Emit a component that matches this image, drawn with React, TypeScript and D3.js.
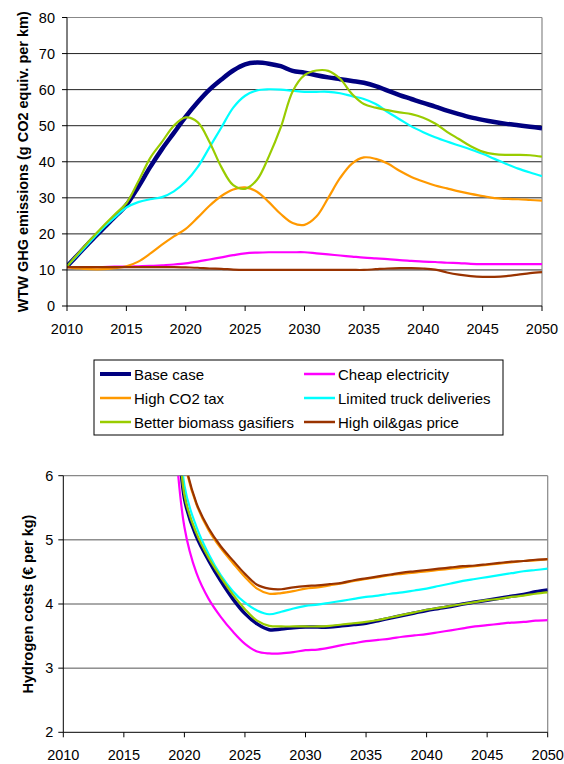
import React from "react";
import * as d3 from "d3";

// ---------- Top chart data (WTW GHG emissions, g CO2 equiv. per km) ----------
const yearsTop = d3.range(2010, 2051);
const baseCase = [11, 14.5, 18, 21.3, 24.6, 28, 33, 38.5, 43.5, 48, 52.5, 56.5, 60, 62.8, 65.3, 67, 67.5, 67.2, 66.5, 65.2, 64.7, 64, 63.4, 62.9, 62.4, 61.9, 61, 59.7, 58.5, 57.4, 56.3, 55.3, 54.2, 53.2, 52.3, 51.6, 51, 50.5, 50.1, 49.7, 49.3];
const cheapElectricity = [10.8, 10.8, 10.8, 10.8, 10.9, 10.9, 11, 11.1, 11.3, 11.5, 11.8, 12.3, 12.9, 13.5, 14.1, 14.6, 14.8, 14.9, 14.9, 14.9, 14.9, 14.6, 14.3, 14, 13.7, 13.4, 13.2, 13, 12.7, 12.5, 12.3, 12.2, 12, 11.9, 11.7, 11.6, 11.6, 11.6, 11.6, 11.6, 11.6];
const highCO2Tax = [10.8, 10.4, 10.2, 10.2, 10.5, 11, 12.3, 14.5, 17, 19.3, 21.4, 24.5, 27.8, 30.5, 32.3, 32.9, 31.7, 28.8, 25.5, 23, 22.5, 24.8, 30, 35.5, 39.5, 41.2, 40.8, 39.5, 37.5, 35.8, 34.5, 33.4, 32.6, 31.8, 31.1, 30.5, 29.9, 29.7, 29.6, 29.4, 29.2];
const limitedTruck = [11, 14.5, 18, 21.5, 24.5, 27.3, 28.8, 29.6, 30.2, 31.8, 34.5, 38.5, 44, 49.5, 55, 58.3, 59.8, 60.1, 60, 59.7, 59.4, 59.4, 59.4, 59, 58.2, 57.4, 56, 53.8, 51.8, 49.8, 48.2, 46.8, 45.6, 44.5, 43.4, 42.2, 40.8, 39.4, 38.1, 37, 36];
const betterBiomass = [11, 14.8, 18.5, 22, 25.3, 28.5, 34.5, 41, 45.5, 50, 52.3, 51, 45.5, 38.5, 33.5, 32.5, 35, 41.5, 49.5, 59.5, 64, 65.3, 65.2, 63, 58.8, 56, 55, 54.3, 53.7, 53.2, 52.2, 50.6, 48.3, 46.3, 44.3, 42.8, 42.1, 41.9, 41.9, 41.8, 41.4];
const highOilGas = [10.8, 10.8, 10.8, 10.8, 10.8, 10.8, 10.8, 10.8, 10.8, 10.8, 10.7, 10.6, 10.4, 10.3, 10.1, 10, 10, 10, 10, 10, 10, 10, 10, 10, 10, 10, 10.2, 10.4, 10.5, 10.5, 10.4, 10.1, 9.3, 8.7, 8.3, 8.1, 8.1, 8.3, 8.7, 9.1, 9.4];

// ---------- Bottom chart data (Hydrogen costs, € per kg) ----------
const yearsBottom = d3.range(2019, 2051);
const costBase = [9, 5.65, 5.05, 4.68, 4.36, 4.08, 3.85, 3.69, 3.6, 3.61, 3.63, 3.64, 3.64, 3.64, 3.66, 3.68, 3.7, 3.74, 3.78, 3.82, 3.86, 3.9, 3.93, 3.96, 4.0, 4.03, 4.06, 4.09, 4.12, 4.15, 4.19, 4.22];
const costCheapElec = [7.2, 5.2, 4.48, 4.08, 3.8, 3.57, 3.38, 3.26, 3.23, 3.23, 3.25, 3.28, 3.29, 3.32, 3.36, 3.39, 3.42, 3.44, 3.46, 3.49, 3.51, 3.53, 3.56, 3.59, 3.62, 3.65, 3.67, 3.69, 3.71, 3.72, 3.74, 3.75];
const costHighCO2 = [10, 6.25, 5.55, 5.15, 4.87, 4.64, 4.42, 4.24, 4.16, 4.17, 4.2, 4.24, 4.26, 4.29, 4.32, 4.36, 4.39, 4.42, 4.45, 4.47, 4.49, 4.51, 4.53, 4.55, 4.57, 4.59, 4.61, 4.63, 4.65, 4.67, 4.68, 4.7];
const costLimitedTruck = [9.5, 5.85, 5.2, 4.78, 4.45, 4.2, 4.02, 3.9, 3.84, 3.88, 3.93, 3.97, 3.99, 4.02, 4.05, 4.08, 4.11, 4.13, 4.16, 4.18, 4.21, 4.24, 4.28, 4.32, 4.36, 4.39, 4.42, 4.45, 4.48, 4.51, 4.53, 4.55];
const costBetterBiomass = [9, 5.7, 5.1, 4.72, 4.42, 4.15, 3.92, 3.74, 3.66, 3.65, 3.65, 3.65, 3.65, 3.66, 3.68, 3.7, 3.72, 3.75, 3.79, 3.83, 3.87, 3.91, 3.94, 3.97, 4.0, 4.03, 4.06, 4.08, 4.11, 4.13, 4.16, 4.18];
const costHighOilGas = [10, 6.3, 5.57, 5.18, 4.9, 4.68, 4.47, 4.3, 4.24, 4.23, 4.26, 4.28, 4.29, 4.31, 4.33, 4.37, 4.4, 4.43, 4.46, 4.49, 4.51, 4.53, 4.55, 4.57, 4.59, 4.6, 4.62, 4.64, 4.66, 4.67, 4.69, 4.7];

// ---------- Series / ticks ----------
const seriesNames = ["Base case", "Cheap electricity", "High CO2 tax", "Limited truck deliveries", "Better biomass gasifiers", "High oil&gas price"];
const seriesColors = ["#000080", "#FF00FF", "#FF9900", "#00FFFF", "#99CC00", "#993300"];
const topValues = [baseCase, cheapElectricity, highCO2Tax, limitedTruck, betterBiomass, highOilGas];
const bottomValues = [costBase, costCheapElec, costHighCO2, costLimitedTruck, costBetterBiomass, costHighOilGas];
const xTicks = [2010, 2015, 2020, 2025, 2030, 2035, 2040, 2045, 2050];
const topYTicks = [0, 10, 20, 30, 40, 50, 60, 70, 80];
const bottomYTicks = [2, 3, 4, 5, 6];
const topTitle = "WTW GHG emissions (g CO2 equiv. per km)";
const bottomTitle = "Hydrogen costs (€ per kg)";

const FONT = "'Liberation Sans', Arial, sans-serif";

type ChartProps = {
  years: number[];
  values: number[][];
  yDomain: [number, number];
  yTicks: number[];
  left: number; right: number; top: number; bottom: number;
  title: string; titleX: number;
  gridColor: string;
  widths: number[];
  clipId: string;
  labelGap: number;
};

function LineChart(p: ChartProps) {
  const x = d3.scaleLinear().domain([2010, 2050]).range([p.left, p.right]);
  const y = d3.scaleLinear().domain(p.yDomain).range([p.bottom, p.top]);
  const line = d3
    .line<[number, number]>()
    .x((d) => x(d[0]))
    .y((d) => y(d[1]))
    .curve(d3.curveCatmullRom.alpha(0.5));
  const midY = (p.top + p.bottom) / 2;
  return (
    <g>
      <defs>
        <clipPath id={p.clipId}>
          <rect x={p.left} y={p.top} width={p.right - p.left} height={p.bottom - p.top} />
        </clipPath>
      </defs>
      {p.yTicks.slice(1, -1).map((t) => (
        <line key={"g" + t} x1={p.left} x2={p.right} y1={y(t)} y2={y(t)} stroke={p.gridColor} strokeWidth={1} />
      ))}
      <line x1={p.left} x2={p.right} y1={p.top} y2={p.top} stroke="#888" strokeWidth={1.2} />
      <line x1={p.right} x2={p.right} y1={p.top} y2={p.bottom} stroke="#888" strokeWidth={1.2} />
      <g clipPath={`url(#${p.clipId})`}>
        {p.values.map((vals, i) => (
          <path
            key={seriesNames[i]}
            d={line(p.years.map((yr, j) => [yr, vals[j]] as [number, number])) || ""}
            fill="none"
            stroke={seriesColors[i]}
            strokeWidth={p.widths[i]}
            strokeLinejoin="round"
          />
        ))}
      </g>
      <line x1={p.left} x2={p.left} y1={p.top} y2={p.bottom} stroke="#000" strokeWidth={1} />
      <line x1={p.left} x2={p.right} y1={p.bottom} y2={p.bottom} stroke="#000" strokeWidth={1} />
      {p.yTicks.map((t) => (
        <g key={"yt" + t}>
          <line x1={p.left - 5} x2={p.left} y1={y(t)} y2={y(t)} stroke="#000" />
          <text x={p.left - p.labelGap} y={y(t) + 5} textAnchor="end" fontSize={14.5} fontFamily={FONT} fill="#000">
            {t}
          </text>
        </g>
      ))}
      {xTicks.map((t) => (
        <g key={"xt" + t}>
          <line x1={x(t)} x2={x(t)} y1={p.bottom} y2={p.bottom + 5} stroke="#000" />
          <text x={x(t)} y={p.bottom + 28} textAnchor="middle" fontSize={14.5} fontFamily={FONT} fill="#000">
            {t}
          </text>
        </g>
      ))}
      <text
        transform={`translate(${p.titleX},${midY}) rotate(-90)`}
        textAnchor="middle"
        fontSize={14.5}
        fontWeight="bold"
        fontFamily={FONT}
        fill="#000"
      >
        {p.title}
      </text>
    </g>
  );
}

function Legend() {
  const left = 94, top = 360, w = 409, h = 75;
  const rowY = [374, 398, 422];
  const colX = [100, 304];
  return (
    <g>
      <rect x={left} y={top} width={w} height={h} fill="#fff" stroke="#000" strokeWidth={1} />
      {seriesNames.map((name, i) => {
        const col = i % 2;
        const row = Math.floor(i / 2);
        const lx = colX[col];
        const ly = rowY[row];
        return (
          <g key={name}>
            <line x1={lx} x2={lx + 31} y1={ly} y2={ly} stroke={seriesColors[i]} strokeWidth={i === 0 ? 4 : 2.5} />
            <text x={lx + 34} y={ly + 5.5} fontSize={15} fontFamily={FONT} fill="#000">
              {name}
            </text>
          </g>
        );
      })}
    </g>
  );
}

export default function App() {
  return (
    <svg
      width={564}
      height={764}
      style={{ position: "absolute", left: 0, top: 0, background: "#fff" }}
    >
      <LineChart
        years={yearsTop}
        values={topValues}
        yDomain={[0, 80]}
        yTicks={topYTicks}
        left={67}
        right={542}
        top={17.5}
        bottom={306}
        title={topTitle}
        titleX={28}
        gridColor="#222"
        widths={[4.5, 2.2, 2.2, 2.2, 2.2, 2.2]}
        clipId="clipTop"
        labelGap={12}
      />
      <Legend />
      <LineChart
        years={yearsBottom}
        values={bottomValues}
        yDomain={[2, 6]}
        yTicks={bottomYTicks}
        left={63.3}
        right={547.7}
        top={475.7}
        bottom={732.3}
        title={bottomTitle}
        titleX={33}
        gridColor="#555"
        widths={[3.5, 2.2, 2.2, 2.2, 2.2, 2.2]}
        clipId="clipBottom"
        labelGap={10}
      />
    </svg>
  );
}
